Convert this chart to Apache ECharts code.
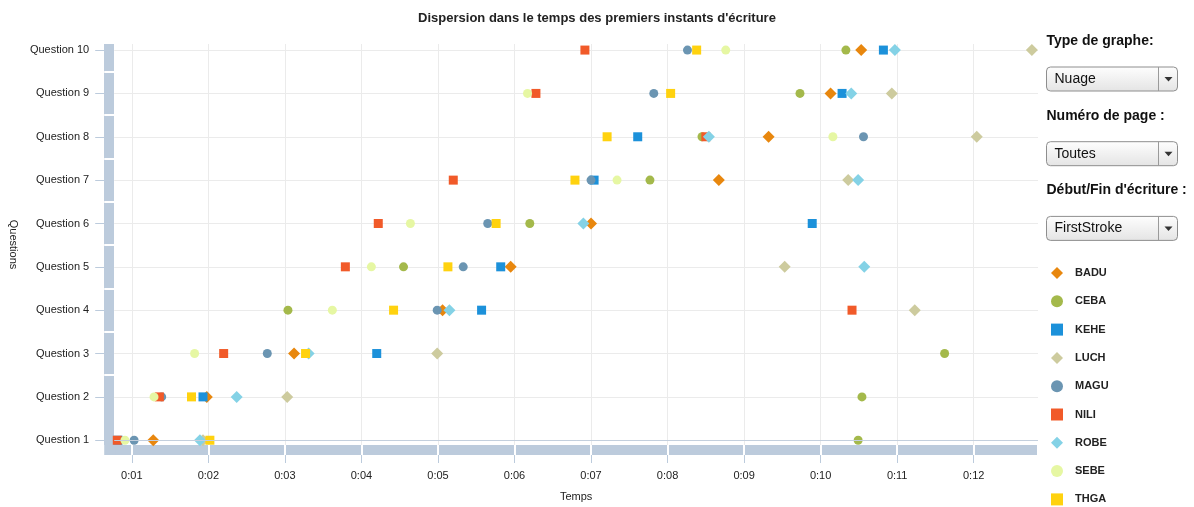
<!DOCTYPE html>
<html>
<head>
<meta charset="utf-8">
<title>Dispersion dans le temps</title>
<script src="https://cdn.jsdelivr.net/npm/echarts@6/dist/echarts.min.js"></script>
<style>
  html, body { margin: 0; padding: 0; background: #fff; }
  #chart { width: 1194px; height: 507px; }
</style>
</head>
<body>
<div id="chart"></div>
<script>
// categories (y axis) - question 1 is at the bottom
const questions = ['Question 1', 'Question 2', 'Question 3', 'Question 4', 'Question 5',
  'Question 6', 'Question 7', 'Question 8', 'Question 9', 'Question 10'];

// students shown in the legend
const students = ['BADU', 'CEBA', 'KEHE', 'LUCH', 'MAGU', 'NILI', 'ROBE', 'SEBE', 'THGA'];

// first writing instant in seconds, Q1 .. Q10 (null = not visible)
const BADU = [1.28, 1.98, 3.12, 5.06, 5.95, 7.00, 8.67, 9.32, 10.13, 10.53];
const CEBA = [10.49, 10.54, 11.62, 3.04, 4.55, 6.20, 7.77, 8.45, 9.73, 10.33];
const KEHE = [0.82, 1.93, 4.20, 5.57, 5.82, 9.89, 7.04, 7.61, 10.28, 10.82];
const LUCH = [1.93, 3.03, 4.99, 11.23, 9.53, null, 10.36, 12.04, 10.93, 12.76];
const MAGU = [1.03, 1.39, 2.77, 4.99, 5.33, 5.65, 7.00, 10.56, 7.82, 8.26];
const NILI = [0.81, 1.36, 2.20, 10.41, 3.79, 4.22, 5.20, 8.50, 6.28, 6.92];
const ROBE = [1.89, 2.37, 3.31, 5.15, 10.57, 6.90, 10.49, 8.54, 10.40, 10.97];
const SEBE = [0.91, 1.29, 1.82, 3.62, 4.13, 4.64, 7.34, 10.16, 6.17, 8.76];
const THGA = [2.02, 1.78, 3.27, 4.42, 5.13, 5.76, 6.79, 7.21, 8.04, 8.38];

const values = [BADU, CEBA, KEHE, LUCH, MAGU, NILI, ROBE, SEBE, THGA];

// drop-down controls on the right
const controlLabels = ['Type de graphe:', 'Numéro de page :', "Début/Fin d'écriture :"];
const controlValues = ['Nuage', 'Toutes', 'FirstStroke'];

const symbols = ['diamond', 'circle', 'rect', 'diamond', 'circle', 'rect', 'diamond', 'circle', 'rect'];
const colors = ['#e8870e', '#a4b94b', '#1c91da', '#cdcb9e', '#6b95b2', '#f15a29', '#84d2e6', '#e6f7a3', '#ffd20f'];

const FONT = "'Liberation Sans', Arial, Helvetica, sans-serif";
const BAND = '#bccbdc';
const GRIDLINE = '#ebebeb';
const xMin = 0.77, xMax = 12.84;
const yMin = 0.89, yMax = 10.14;

// whole seconds / whole questions inside the axis ranges (no edge ticks)
const secondTicks = [];
for (let s = Math.ceil(xMin); s <= Math.floor(xMax); s++) secondTicks.push(s);
const questionTicks = questions.map((q, i) => i + 1);
const halfTicks = questionTicks.slice(1); // on the axis shifted by half a step

function isInt(v) { return Math.abs(v - Math.round(v)) < 1e-6; }
function fmtTime(v) {
  if (!isInt(v)) return '';
  const s = Math.round(v);
  return Math.floor(s / 60) + ':' + String(s % 60).padStart(2, '0');
}
function fmtQuestion(v) {
  if (!isInt(v)) return '';
  return questions[Math.round(v) - 1] || '';
}

// fake <select> boxes drawn with graphic elements
function selectBox(label, value, i) {
  const top = 34 + i * 74.7;
  return {
    type: 'group', left: 1046, top: top,
    children: [
      { type: 'text', x: 0, y: 0, style: { text: label, font: 'bold 14px ' + FONT, fill: '#111' } },
      { type: 'rect', x: 0, y: 33, shape: { width: 131, height: 24, r: 4 },
        style: { fill: new echarts.graphic.LinearGradient(0, 0, 0, 1, [
          { offset: 0, color: '#fefefe' }, { offset: 1, color: '#e4e4e4' }]),
          stroke: '#8e8e8e', lineWidth: 1 } },
      { type: 'line', shape: { x1: 112, y1: 33, x2: 112, y2: 57 }, style: { stroke: '#9a9a9a', lineWidth: 1 } },
      { type: 'polygon', shape: { points: [[118, 43], [126, 43], [122, 47.5]] }, style: { fill: '#333' } },
      { type: 'text', x: 8, y: 38, style: { text: value, font: '14px ' + FONT, fill: '#111' } }
    ]
  };
}

const chart = echarts.init(document.getElementById('chart'));

const series = students.map((name, k) => ({
  name: name,
  type: 'scatter',
  symbol: symbols[k],
  symbolSize: symbols[k] === 'diamond' ? 12 : 9,
  symbolKeepAspect: true,
  itemStyle: { color: colors[k], opacity: 1 },
  emphasis: { disabled: true },
  data: values[k].map((t, i) => (t == null ? null : [t, i + 1])).filter(Boolean),
  z: 3
}));

// darker line along the first question
series.push({
  type: 'scatter',
  data: [],
  z: 2,
  markLine: {
    silent: true,
    symbol: ['none', 'none'],
    label: { show: false },
    lineStyle: { color: '#c3cfdd', width: 1, type: 'solid' },
    data: [{ yAxis: questionTicks[0] }]
  }
});

const option = {
  animation: false,
  backgroundColor: '#fff',
  textStyle: { fontFamily: FONT },
  title: {
    text: "Dispersion dans le temps des premiers instants d'écriture",
    left: 'center', top: 12, padding: 0,
    textStyle: { fontSize: 13, fontWeight: 'bold', color: '#222', fontFamily: FONT }
  },
  legend: {
    data: students,
    orient: 'vertical',
    left: 1051, top: 267,
    itemWidth: 12, itemHeight: 12, itemGap: 16.3,
    symbolKeepAspect: true,
    padding: 0,
    selectedMode: false,
    textStyle: { fontSize: 11, fontWeight: 'bold', color: '#222', fontFamily: FONT,
      lineHeight: 12, padding: [0, 0, 0, 7] }
  },
  grid: { left: 113, right: 156, top: 44, bottom: 62 },
  xAxis: [
    {
      type: 'value', min: xMin, max: xMax, minInterval: 1, maxInterval: 1,
      name: 'Temps', nameLocation: 'middle', nameGap: 46,
      nameTextStyle: { fontSize: 11, color: '#222', fontFamily: FONT },
      axisLine: { show: false },
      axisTick: { show: true, length: 10, lineStyle: { color: '#fff', width: 2 } },
      axisLabel: { formatter: fmtTime, margin: 25, fontSize: 11, color: '#222', fontFamily: FONT },
      splitLine: { show: true, showMinLine: false, showMaxLine: false, lineStyle: { color: GRIDLINE, width: 1 } },
      z: 3
    },
    {
      // thick band under the time axis
      type: 'value', min: xMin, max: xMax, minInterval: 1, maxInterval: 1,
      position: 'bottom', offset: 5,
      axisLine: { show: true, lineStyle: { color: BAND, width: 10, cap: 'butt' } },
      axisTick: { show: true, length: 13, customValues: secondTicks, lineStyle: { color: BAND, width: 1 } },
      axisLabel: { show: false },
      splitLine: { show: false },
      z: 1
    }
  ],
  yAxis: [
    {
      type: 'value', min: yMin, max: yMax, minInterval: 1, maxInterval: 1,
      name: 'Questions', nameLocation: 'middle', nameGap: 94, nameRotate: -90,
      nameTextStyle: { fontSize: 11, color: '#222', fontFamily: FONT },
      axisLine: { show: false },
      axisTick: { show: false },
      axisLabel: { formatter: fmtQuestion, margin: 25, fontSize: 11, color: '#222', fontFamily: FONT },
      splitLine: { show: true, showMinLine: false, showMaxLine: false, lineStyle: { color: GRIDLINE, width: 1 } },
      z: 3
    },
    {
      // thick band along the question axis
      type: 'value', min: yMin, max: yMax, minInterval: 1, maxInterval: 1,
      position: 'left', offset: 5,
      axisLine: { show: true, lineStyle: { color: BAND, width: 10, cap: 'butt' } },
      axisTick: { show: true, length: 14, customValues: questionTicks, lineStyle: { color: BAND, width: 1 } },
      axisLabel: { show: false },
      splitLine: { show: false },
      z: 1
    },
    {
      // white separators between questions, shifted by half a step
      type: 'value', min: yMin - 0.5, max: yMax - 0.5, minInterval: 1, maxInterval: 1,
      position: 'left', offset: 0,
      axisLine: { show: false },
      axisTick: { show: true, length: 10, customValues: halfTicks, lineStyle: { color: '#fff', width: 2 } },
      axisLabel: { show: false },
      splitLine: { show: false },
      z: 3
    }
  ],
  graphic: controlLabels.map((l, i) => selectBox(l, controlValues[i], i)),
  series: series
};

chart.setOption(option);

// fill the corner where both bands meet
const corner = chart.convertToPixel({ gridIndex: 0 }, [xMin, yMin]);
chart.setOption({
  graphic: controlLabels.map((l, i) => selectBox(l, controlValues[i], i)).concat([{
    type: 'rect', z: 10,
    shape: { x: corner[0] - 10, y: corner[1], width: 11.5, height: 10 },
    style: { fill: BAND }
  }])
});
</script>
</body>
</html>
